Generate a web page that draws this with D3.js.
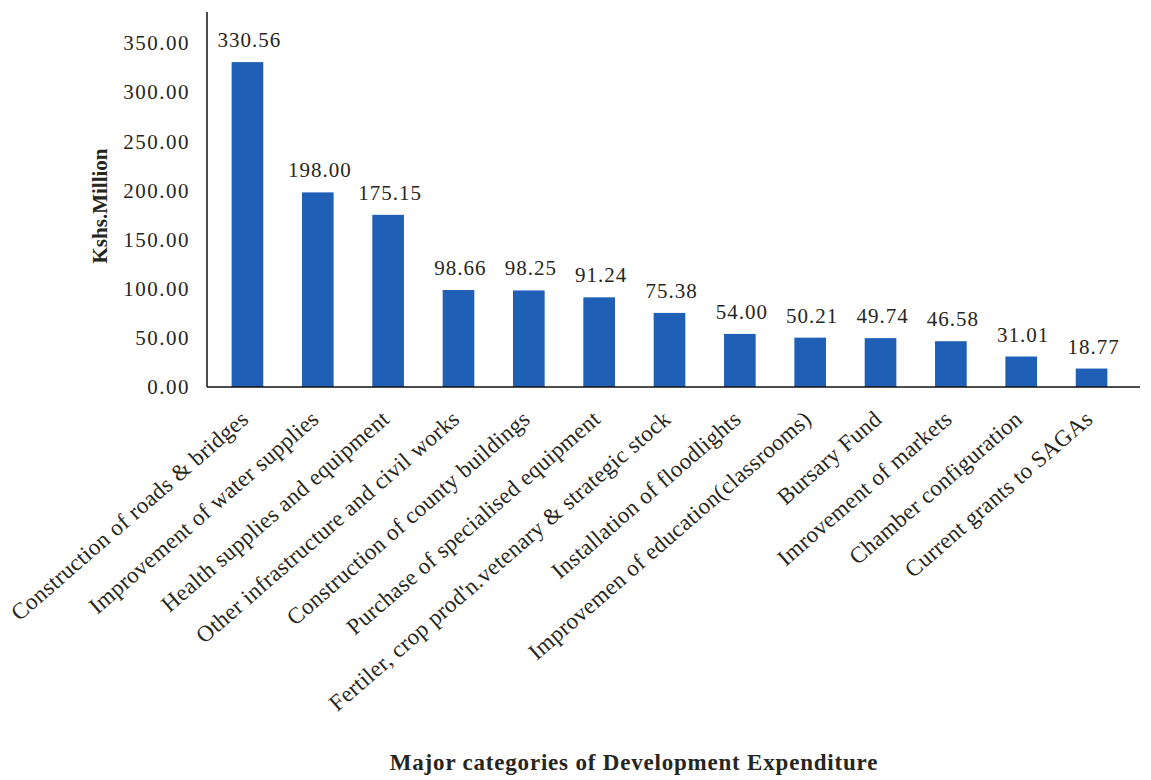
<!DOCTYPE html>
<html>
<head>
<meta charset="utf-8">
<script src="https://cdn.jsdelivr.net/npm/d3@7"></script>
<style>
  body { margin: 0; background: #fff; }
  svg { font-family: "Liberation Serif", "DejaVu Serif", serif; }
</style>
</head>
<body>
<div id="chart"></div>
<script>
const categories = [
  "Construction of roads & bridges",
  "Improvement of water supplies",
  "Health supplies and equipment",
  "Other infrastructure and civil works",
  "Construction of county buildings",
  "Purchase of specialised equipment",
  "Fertiler, crop prod'n.vetenary & strategic stock",
  "Installation of floodlights",
  "Improvemen of education(classrooms)",
  "Bursary Fund",
  "Imrovement of markets",
  "Chamber configuration",
  "Current grants to SAGAs"
];
const values = [330.56, 198.00, 175.15, 98.66, 98.25, 91.24, 75.38, 54.00, 50.21, 49.74, 46.58, 31.01, 18.77];
const yTicks = [0, 50, 100, 150, 200, 250, 300, 350];

const width = 1151, height = 780;
const x0 = 207, yBase = 387, yTopTick = 43, axisTop = 12, axisRight = 1140;
const ink = "#262620";

const svg = d3.select("#chart").append("svg").attr("width", width).attr("height", height);

const x = d3.scaleBand().domain(categories).range([x0, 1132]).paddingInner(0.55).paddingOuter(0.35);
const y = d3.scaleLinear().domain([0, 350]).range([yBase, yTopTick]);

// bars
svg.append("g").selectAll("rect").data(values).join("rect")
  .attr("x", (d, i) => x(categories[i]))
  .attr("width", x.bandwidth())
  .attr("y", d => y(d))
  .attr("height", d => yBase - y(d))
  .attr("fill", "#1f5fb5");

// value labels
svg.append("g").selectAll("text").data(values).join("text")
  .attr("x", (d, i) => x(categories[i]) + x.bandwidth() / 2 + 2)
  .attr("y", d => y(d) - 15)
  .attr("text-anchor", "middle")
  .style("font-size", "21px").style("letter-spacing", "1px").style("fill", ink)
  .text(d => d.toFixed(2));

// y axis
const yAxis = svg.append("g").attr("transform", `translate(${x0},0)`)
  .call(d3.axisLeft(y).tickValues(yTicks).tickSize(0).tickPadding(17).tickFormat(d3.format(".2f")));
yAxis.select(".domain").remove();
yAxis.selectAll("text").style("font-size", "21px").style("letter-spacing", "1.5px").style("fill", ink)
  .style("font-family", "Liberation Serif, serif");
svg.append("line").attr("x1", x0).attr("x2", x0).attr("y1", axisTop).attr("y2", yBase)
  .attr("stroke", "#111").attr("stroke-width", 1.5);

// x axis
svg.append("line").attr("x1", x0).attr("x2", axisRight).attr("y1", yBase).attr("y2", yBase)
  .attr("stroke", "#111").attr("stroke-width", 1.5);

svg.append("g").selectAll("text").data(categories).join("text")
  .attr("transform", d => `translate(${x(d) + x.bandwidth() / 2 - 8},${yBase + 22}) rotate(-41)`)
  .attr("text-anchor", "end")
  .attr("dy", "0.7em")
  .style("font-size", "23px").style("letter-spacing", "0.3px").style("fill", ink)
  .text(d => d);

// axis titles
svg.append("text")
  .attr("transform", `translate(107,206) rotate(-90)`)
  .attr("text-anchor", "middle")
  .style("font-size", "21px").style("font-weight", "bold").style("fill", ink)
  .text("Kshs.Million");

svg.append("text")
  .attr("x", 634).attr("y", 770)
  .attr("text-anchor", "middle")
  .style("font-size", "23px").style("font-weight", "bold").style("letter-spacing", "0.8px").style("fill", ink)
  .text("Major categories of Development Expenditure");
</script>
</body>
</html>
